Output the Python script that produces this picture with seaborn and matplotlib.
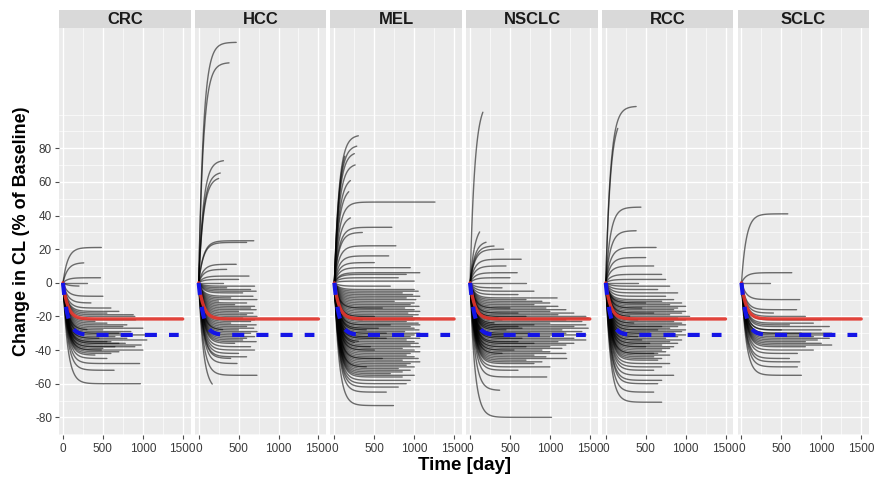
import numpy as np
import pandas as pd
import matplotlib
matplotlib.use("Agg")
import matplotlib.pyplot as plt
import seaborn as sns
from matplotlib.patches import Rectangle

# ---------------- data ----------------
cancers = ["CRC", "HCC", "MEL", "NSCLC", "RCC", "SCLC"]

# per-subject plateau of change in CL (% of baseline) and last day observed
crc_plateau = [21, 12, 3, 0, -2, -8, -12, -15, -17, -19,
               -20, -22, -23, -24, -25, -26, -27, -28, -29, -30,
               -31, -32, -33, -33, -34, -35, -35, -36, -37, -38,
               -38, -39, -40, -41, -42, -43, -45, -48, -52, -60,
               -18, -28, -30, -36, -40]
crc_end = [480, 260, 470, 300, 200, 500, 350, 600, 700, 880,
           900, 910, 400, 550, 800, 750, 1000, 500, 850, 700,
           1040, 650, 800, 450, 1050, 600, 550, 700, 980, 650,
           900, 500, 1000, 700, 600, 400, 550, 960, 640, 970,
           550, 300, 720, 780, 480]

hcc_plateau = [143, 131, 73, 66, 63, 25, 24, 11, 8, 4,
               2, 0, -2, -4, -5, -6, -8, -9, -10, -12,
               -13, -14, -15, -16, -17, -18, -19, -20, -21, -22,
               -23, -24, -25, -26, -27, -28, -29, -30, -31, -32,
               -33, -34, -35, -36, -38, -40, -42, -44, -45, -48,
               -55, -64, -3, -11, -28]
hcc_end = [470, 380, 310, 270, 250, 690, 600, 470, 350, 630,
           500, 300, 700, 650, 720, 550, 680, 400, 730, 600,
           450, 700, 650, 720, 500, 680, 600, 730, 550, 700,
           650, 400, 720, 600, 690, 500, 730, 650, 480, 700,
           600, 550, 720, 450, 650, 700, 500, 600, 400, 480,
           730, 170, 350, 250, 300]

mel_plateau = [88, 85, 82, 78, 71, 63, 57, 48, 40, 33,
               30, 22, 16, 12, 9, 6, 5, 3, 1, -2,
               -4, -5, -6, -7, -8, -9, -10, -11, -12, -13,
               -14, -15, -16, -17, -18, -19, -20, -21, -22, -23,
               -24, -25, -26, -27, -28, -29, -30, -31, -32, -33,
               -34, -35, -36, -37, -38, -39, -40, -41, -42, -43,
               -44, -45, -46, -47, -48, -49, -50, -51, -52, -53,
               -54, -55, -56, -58, -60, -62, -65, -73,
               -15, -20, -25, -28, -30, -32, -35, -38, -40, -45,
               -50, -22, -27, -33, -36]
mel_end = [300, 130, 280, 250, 260, 200, 180, 1260, 200, 720,
           350, 770, 680, 500, 950, 1070, 900, 800, 1000, 700,
           1000, 1050, 850, 980, 1070, 900, 1020, 750, 1000, 950,
           1060, 880, 1000, 1070, 920, 1050, 980, 1070, 1000, 900,
           1050, 1070, 950, 1000, 1060, 880, 1070, 1000, 950, 1070,
           900, 1000, 1050, 950, 1070, 850, 1000, 1070, 950, 900,
           1000, 1050, 850, 1070, 950, 900, 1000, 800, 950, 850,
           700, 1000, 850, 950, 900, 800, 650, 740,
           600, 500, 700, 400, 650, 550, 300, 450, 500, 600,
           400, 350, 550, 650, 250]

nsclc_plateau = [109, 35, 25, 22, 20, 14, 10, 6, 3, 0,
                 -3, -5, -7, -9, -10, -11, -12, -13, -14, -15,
                 -16, -17, -18, -19, -20, -21, -22, -23, -24, -25,
                 -26, -27, -28, -29, -30, -31, -32, -33, -34, -35,
                 -36, -37, -38, -39, -40, -41, -42, -43, -44, -45,
                 -46, -47, -48, -50, -52, -56, -64, -80,
                 -15, -18, -20, -22, -25, -27, -30, -32, -35, -38,
                 -40, -28, -24, -33, -36, -42, -21, -26, -31]
nsclc_end = [160, 120, 200, 300, 420, 640, 450, 590, 500, 700,
             400, 800, 600, 1090, 700, 900, 1000, 800, 1100, 950,
             1200, 1000, 1300, 1100, 1450, 1480, 1200, 1400, 1000, 1450,
             1300, 1480, 1150, 1400, 1200, 1450, 1000, 1300, 1450, 1100,
             1300, 1200, 1000, 1150, 900, 1000, 1200, 800, 950, 1210,
             700, 900, 800, 1000, 600, 960, 370, 1020,
             500, 600, 700, 400, 800, 650, 750, 500, 600, 700,
             550, 450, 300, 650, 800, 400, 350, 600, 500]

rcc_plateau = [105, 100, 45, 31, 21, 15, 10, 5, 2, 0,
               -2, -4, -6, -8, -10, -11, -12, -13, -14, -15,
               -16, -17, -18, -19, -20, -21, -22, -23, -24, -25,
               -26, -27, -28, -29, -30, -31, -32, -33, -34, -35,
               -36, -37, -38, -39, -40, -41, -42, -43, -44, -45,
               -46, -48, -50, -52, -55, -58, -60, -65, -71,
               -12, -18, -22, -26, -30, -34, -38, -42, -20, -28,
               -32, -36, -24, -15]
rcc_end = [380, 150, 440, 380, 630, 500, 600, 700, 750, 400,
           800, 650, 900, 750, 850, 700, 950, 800, 1000, 900,
           850, 1000, 950, 800, 1050, 900, 1000, 850, 950, 1000,
           900, 800, 1000, 950, 850, 1000, 900, 750, 950, 800,
           900, 700, 850, 800, 700, 750, 650, 800, 600, 700,
           650, 800, 700, 600, 850, 700, 650, 600, 700,
           500, 600, 400, 700, 550, 450, 500, 600, 300, 650,
           400, 550, 350, 450]

sclc_plateau = [41, 6, 0, -10, -16, -18, -20, -22, -24, -25,
                -26, -28, -28, -30, -30, -31, -32, -33, -34, -35,
                -36, -37, -38, -40, -42, -45, -47, -50, -55]
sclc_end = [580, 630, 360, 730, 690, 400, 800, 1000, 900, 600,
            1100, 1000, 500, 1130, 750, 1050, 900, 1100, 950, 800,
            1000, 1130, 800, 900, 700, 600, 730, 700, 750]

plateaus = [crc_plateau, hcc_plateau, mel_plateau, nsclc_plateau, rcc_plateau, sclc_plateau]
ends = [crc_end, hcc_end, mel_end, nsclc_end, rcc_end, sclc_end]

typical_plateau = -21.5   # red solid curve
typical_end = 1500
reference_plateau = -31   # blue dashed curve
reference_end = 1450
onset_days = 60           # time constant of the change

x_ticks = [0, 500, 1000, 1500]
y_ticks = [-80, -60, -40, -20, 0, 20, 40, 60, 80]

# ---------------- build long tables ----------------
def curve(plateau, end, n=120):
    t = np.linspace(0, end, n)
    return t, plateau * (1 - np.exp(-t / onset_days))

rows = []
for c, pl, en in zip(cancers, plateaus, ends):
    assert len(pl) == len(en), c
    for i, (p, e) in enumerate(zip(pl, en)):
        t, y = curve(p, e)
        rows.append(pd.DataFrame({"cancer": c, "id": f"{c}{i}", "time": t, "change": y}))
ind = pd.concat(rows, ignore_index=True)

tt, ty = curve(typical_plateau, typical_end, 300)
typ = pd.DataFrame({"time": tt, "change": ty})
rt, ry = curve(reference_plateau, reference_end, 300)
ref = pd.DataFrame({"time": rt, "change": ry})

# ---------------- figure ----------------
sns.set_theme(style="darkgrid")
plt.rcParams["font.family"] = ["Liberation Sans", "DejaVu Sans"]

W, H = 877, 479
fig = plt.figure(figsize=(W / 100, H / 100), dpi=100)
fig.patch.set_facecolor("white")

left0, pw, gap = 59, 131.7, 4.0
ptop, pbot = 28, 435
strip_h = 18

for k, c in enumerate(cancers):
    x0 = left0 + k * (pw + gap)
    ax = fig.add_axes([x0 / W, 1 - pbot / H, pw / W, (pbot - ptop) / H])
    ax.set_facecolor("#EBEBEB")
    for s in ax.spines.values():
        s.set_visible(False)
    ax.set_xlim(-50, 1600)
    ax.set_ylim(-90.5, 151.5)
    ax.set_xticks(x_ticks)
    ax.set_xticklabels([str(v) for v in x_ticks])
    ax.set_xticks([250, 750, 1250], minor=True)
    ax.set_yticks(y_ticks)
    ax.set_yticks([-90, -70, -50, -30, -10, 10, 30, 50, 70, 90, 100], minor=True)
    ax.grid(which="major", color="white", linewidth=1.0)
    ax.grid(which="minor", color="white", linewidth=0.45)
    ax.set_axisbelow(True)
    ax.tick_params(axis="x", which="major", length=3, width=0.8, color="#4D4D4D",
                   labelsize=8.5, labelcolor="#3A3A3A", pad=3, bottom=True)
    ax.tick_params(which="minor", length=0)
    if k == 0:
        ax.set_yticklabels([str(v) for v in y_ticks])
        ax.tick_params(axis="y", which="major", length=3, width=0.8, color="#4D4D4D",
                       labelsize=8.5, labelcolor="#3A3A3A", pad=2, left=True)
    else:
        ax.tick_params(axis="y", which="major", length=0, labelleft=False)

    sub = ind[ind["cancer"] == c]
    sns.lineplot(data=sub, x="time", y="change", units="id", estimator=None,
                 color="black", alpha=0.55, linewidth=1.0, sort=False,
                 legend=False, ax=ax)
    sns.lineplot(data=typ, x="time", y="change", color="#E2352C", alpha=0.92,
                 linewidth=2.4, sort=False, legend=False, ax=ax)
    sns.lineplot(data=ref, x="time", y="change", color="#1414E6",
                 linewidth=3.0, sort=False, legend=False, ax=ax)
    ax.lines[-1].set_dashes((2.9, 2.9))
    ax.lines[-1].set_dash_capstyle("butt")
    ax.set_xlabel("")
    ax.set_ylabel("")

    # facet strip
    sh = strip_h / (pbot - ptop)
    ax.add_patch(Rectangle((0, 1), 1, sh, transform=ax.transAxes,
                           facecolor="#D9D9D9", edgecolor="none", clip_on=False))
    ax.text(0.5, 1 + sh / 2, c, transform=ax.transAxes, ha="center", va="center",
            fontsize=12, fontweight="bold", color="#1A1A1A")

panels_mid = (left0 + left0 + 6 * pw + 5 * gap) / 2
fig.text(panels_mid / W, 1 - 465 / H, "Time [day]",
         ha="center", va="center", fontsize=13.5, fontweight="bold", color="black")
fig.text(22 / W, 1 - ((ptop + pbot) / 2) / H, "Change in CL (% of Baseline)",
         ha="center", va="center", rotation=90, fontsize=13, fontweight="bold",
         color="black")

fig.savefig("out.png", dpi=100, facecolor="white")
